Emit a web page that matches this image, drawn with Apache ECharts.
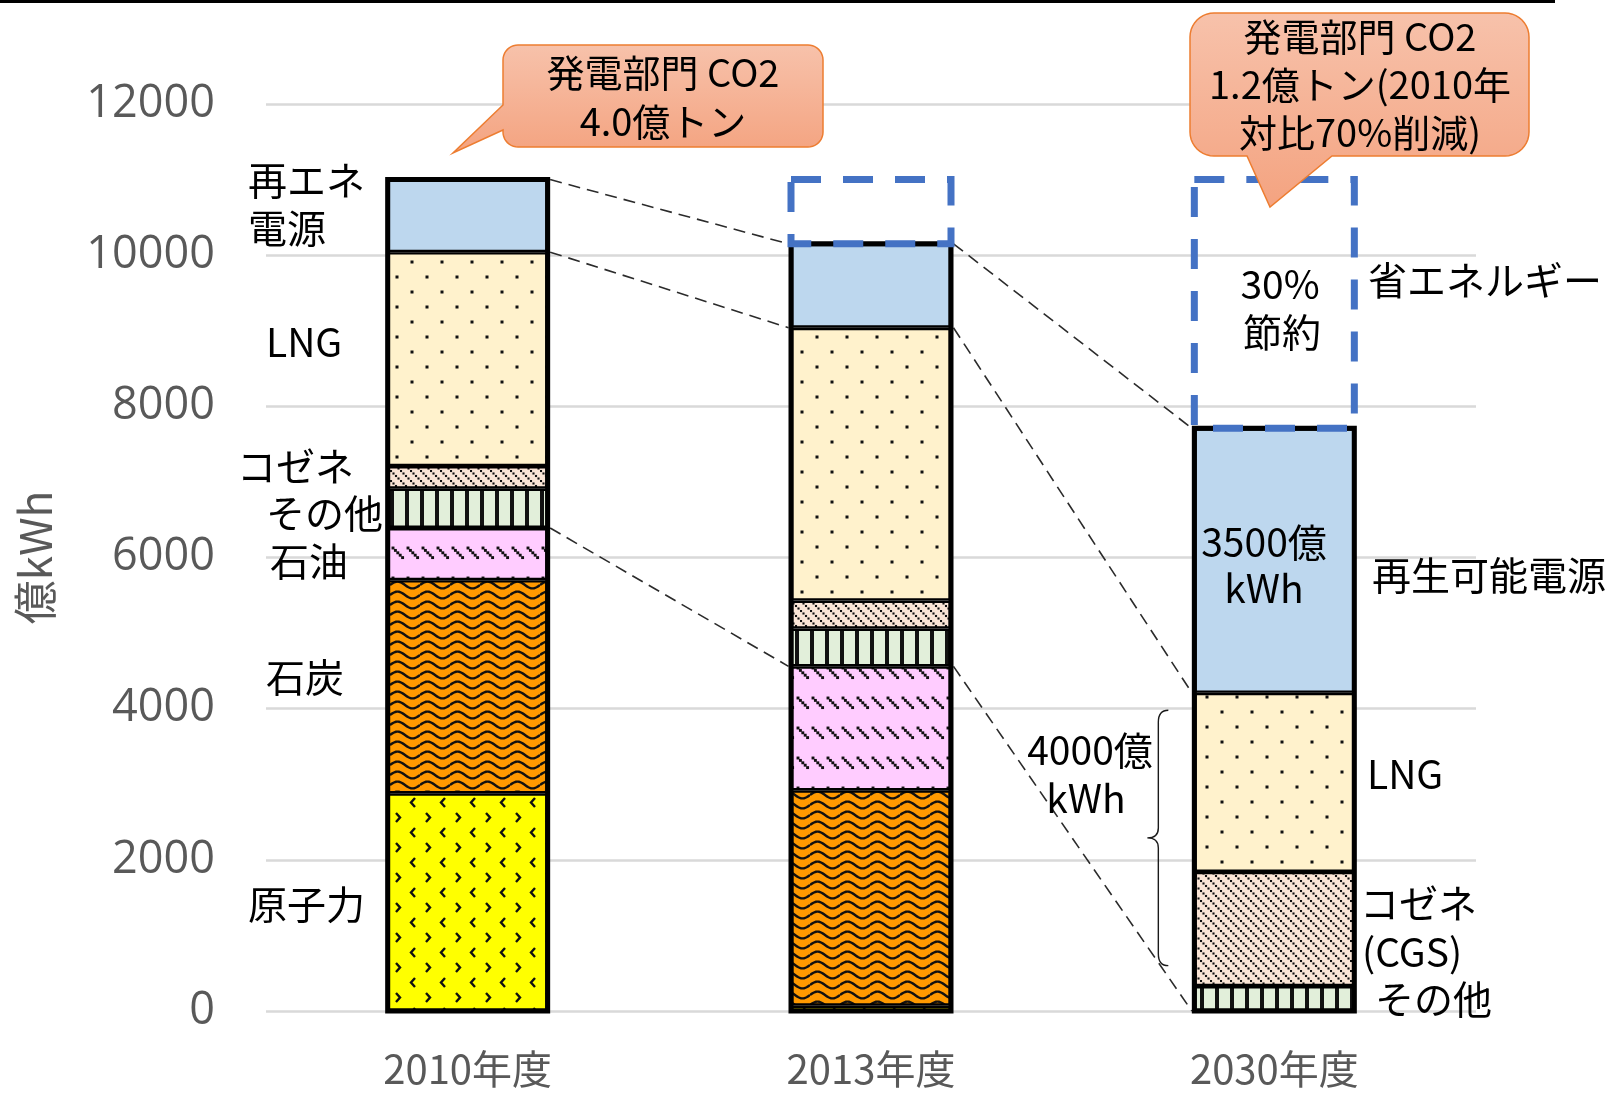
<!DOCTYPE html>
<html>
<head>
<meta charset="utf-8">
<script src="https://cdn.jsdelivr.net/npm/echarts@6/dist/echarts.min.js"></script>
<style>
  html, body { margin: 0; padding: 0; background: #ffffff; }
  #chart { width: 1618px; height: 1093px; }
</style>
</head>
<body>
<div id="chart"></div>
<script>
// ---- data (億kWh) ----
const categories = ['2010年度', '2013年度', '2030年度'];
const yMin = 0, yMax = 12000, yStep = 2000;

const nuclear   = [2880,   70, null];   // 原子力
const coal      = [2820, 2850, null];   // 石炭
const oil       = [ 690, 1640, null];   // 石油
const others    = [ 520,  500,  330];   // その他
const cogen     = [ 300,  370, 1510];   // コゼネ (CGS)
const lng       = [2830, 3610, 2370];   // LNG
const renewable = [ 960, 1110, 3500];   // 再エネ電源
const saving    = [null,  850, 3290];   // 省エネルギー

// brace beside the 2030 bar (value range)
const braceRange = [600, 3980];

// ---- hatch patterns ----
function tile(w, h, bg, draw) {
  const c = document.createElement('canvas');
  c.width = w; c.height = h;
  const g = c.getContext('2d');
  g.fillStyle = bg; g.fillRect(0, 0, w, h);
  g.fillStyle = '#111'; g.strokeStyle = '#111';
  draw(g, w, h);
  return { image: c, repeat: 'repeat' };
}
const dot = (g, x, y, s) => g.fillRect(x - s / 2, y - s / 2, s, s);

const patNuclear = tile(30, 30, '#FFFF00', g => {
  g.lineWidth = 2.4;
  g.beginPath(); g.moveTo(6, 3); g.lineTo(10, 7.5); g.lineTo(6, 12); g.stroke();
  g.beginPath(); g.moveTo(25, 18); g.lineTo(21, 22.5); g.lineTo(25, 27); g.stroke();
});
const patCoal = tile(30, 10, '#FF9900', g => {
  g.lineWidth = 2.4;
  for (const oy of [-10, 0, 10]) {
    g.beginPath();
    for (let x = 0; x <= 30; x += 1) {
      const y = oy + 5 - 3.4 * Math.sin(2 * Math.PI * x / 30);
      if (x === 0) g.moveTo(x, y); else g.lineTo(x, y);
    }
    g.stroke();
  }
});
const patOil = tile(15, 30, '#FFCCFF', g => {
  for (let k = 0; k < 5; k++) dot(g, 3 + k * 2.4, 8 + k * 2.4, 2.9);
});
const patOthers = tile(15, 4, '#E2EFDA', g => { g.fillRect(0, 0, 4, 4); });
const patCogen = tile(10, 10, '#FBE5D6', g => {
  for (let i = 0; i < 10; i += 2.5) dot(g, i + 1, i + 1, 2.1);
});
const patLng = tile(30, 30, '#FFF2CC', g => { dot(g, 7, 7, 3); dot(g, 22, 22, 3); });

const BAR_W = 160;
const BORDER = 2.4;      // segment border (kept inside each segment)
const OUTLINE = 5;       // outer frame of each bar
const FONT = '"Noto Sans CJK JP", sans-serif';

function barSeries(name, data, color) {
  return {
    name, type: 'bar', stack: 'total', barWidth: BAR_W, data,
    itemStyle: { color, borderColor: '#000', borderWidth: BORDER },
    emphasis: { disabled: true }
  };
}

// stack boundaries per category, level k = sum of the first k segments
const stackOrder = [nuclear, coal, oil, others, cogen, lng, renewable];
function level(cat, k) {
  let s = 0;
  for (let i = 0; i < k; i++) s += stackOrder[i][cat] || 0;
  return s;
}
const totals = categories.map((c, i) => [i, level(i, stackOrder.length)]);
const savingBoxes = saving
  .map((v, i) => (v == null ? null : [i, level(i, stackOrder.length), level(i, stackOrder.length) + v]))
  .filter(d => d);

// dashed guide lines between bars: [fromCat, fromLevel, toCat, toLevel]
const linkSpec = [[0, 7, 1, 7], [0, 6, 1, 6], [0, 3, 1, 3], [1, 7, 2, 7], [1, 6, 2, 6], [1, 3, 2, 0]];
const links = linkSpec.map(([a, la, b, lb]) => [a, level(a, la), b, level(b, lb)]);

// callout outline (rounded box with a pointer)
function calloutPoints(x, y, w, h, r, tail) {
  const pts = [];
  const arc = (cx, cy, a0, a1) => {
    for (let i = 0; i <= 10; i++) {
      const t = a0 + (a1 - a0) * i / 10;
      pts.push([cx + r * Math.cos(t), cy + r * Math.sin(t)]);
    }
  };
  arc(x + r, y + r, Math.PI, 1.5 * Math.PI);
  arc(x + w - r, y + r, 1.5 * Math.PI, 2 * Math.PI);
  arc(x + w - r, y + h - r, 0, 0.5 * Math.PI);
  if (tail.edge === 'bottom') pts.push([tail.a, y + h], tail.tip, [tail.b, y + h]);
  arc(x + r, y + h - r, 0.5 * Math.PI, Math.PI);
  if (tail.edge === 'left') pts.push([x, tail.a], tail.tip, [x, tail.b]);
  return pts;
}
const calloutFill = {
  type: 'linear', x: 0, y: 0, x2: 0, y2: 1,
  colorStops: [{ offset: 0, color: '#F7C2AB' }, { offset: 1, color: '#F4A380' }]
};
function callout(pts) {
  return { type: 'polygon', shape: { points: pts }, style: { fill: calloutFill, stroke: '#ED7D31', lineWidth: 1.5 }, z: 10 };
}
function txt(text, x, y, align, size, color) {
  return {
    type: 'text', z: 11,
    style: { text, x, y, align: align || 'left', verticalAlign: 'middle',
      fontSize: size || 39, fontFamily: FONT, fill: color || '#000' }
  };
}

const chart = echarts.init(document.getElementById('chart'), null, { renderer: 'canvas' });

chart.setOption({
  animation: false,
  backgroundColor: '#ffffff',
  grid: { left: 266, right: 142, top: 104, bottom: 82, containLabel: false, outerBoundsMode: 'none' },
  xAxis: {
    type: 'category', data: categories,
    axisLine: { show: false }, axisTick: { show: false },
    axisLabel: { color: '#595959', fontSize: 40, fontFamily: FONT, margin: 36, lineHeight: 44 }
  },
  yAxis: {
    type: 'value', min: yMin, max: yMax, interval: yStep,
    axisLine: { show: false }, axisTick: { show: false },
    axisLabel: { color: '#595959', fontSize: 45, fontFamily: '"Open Sans", sans-serif', margin: 51,
      formatter: v => String(v) },
    splitLine: { lineStyle: { color: '#D9D9D9', width: 2.5 } },
    name: '億kWh', nameLocation: 'middle', nameRotate: 90, nameGap: 209,
    nameTextStyle: { color: '#595959', fontSize: 44, fontFamily: FONT }
  },
  series: [
    barSeries('原子力', nuclear, patNuclear),
    barSeries('石炭', coal, patCoal),
    barSeries('石油', oil, patOil),
    barSeries('その他', others, patOthers),
    barSeries('コゼネ', cogen, patCogen),
    barSeries('LNG', lng, patLng),
    barSeries('再エネ電源', renewable, '#BDD7EE'),
    {
      // heavy frame round each stacked bar
      name: 'frame', type: 'custom', data: totals, clip: false, silent: true, z: 3,
      encode: { x: 0, y: 1 },
      renderItem: (params, api) => {
        const top = api.coord([api.value(0), api.value(1)]);
        const base = api.coord([api.value(0), 0]);
        return {
          type: 'rect',
          shape: { x: top[0] - BAR_W / 2, y: top[1], width: BAR_W, height: base[1] - top[1] },
          style: { fill: null, stroke: '#000', lineWidth: OUTLINE }
        };
      }
    },
    {
      // 省エネルギー: dashed outline above the bar
      name: '省エネルギー', type: 'custom', data: savingBoxes, clip: false, silent: true, z: 4,
      encode: { x: 0, y: [1, 2] },
      renderItem: (params, api) => {
        const lo = api.coord([api.value(0), api.value(1)]);
        const hi = api.coord([api.value(0), api.value(2)]);
        return {
          type: 'rect',
          shape: { x: lo[0] - BAR_W / 2, y: hi[1], width: BAR_W, height: lo[1] - hi[1] },
          style: { fill: null, stroke: '#4472C4', lineWidth: 7, lineDash: [30, 22] }
        };
      }
    },
    {
      name: 'links', type: 'custom', data: links, clip: false, silent: true,
      encode: { x: [0, 2], y: [1, 3] },
      renderItem: (params, api) => {
        const a = api.coord([api.value(0), api.value(1)]);
        const b = api.coord([api.value(2), api.value(3)]);
        const half = BAR_W / 2 + OUTLINE / 2;
        return {
          type: 'line',
          shape: { x1: a[0] + half, y1: a[1], x2: b[0] - half, y2: b[1] },
          style: { stroke: '#2b2b2b', lineWidth: 1.6, lineDash: [12, 7] }
        };
      }
    },
    {
      name: 'brace', type: 'custom', data: [[2, braceRange[0], braceRange[1]]], clip: false, silent: true,
      encode: { x: 0, y: [1, 2] },
      renderItem: (params, api) => {
        const lo = api.coord([api.value(0), api.value(1)]);
        const hi = api.coord([api.value(0), api.value(2)]);
        const xr = lo[0] - BAR_W / 2 - 26, xm = xr - 10, xl = xr - 21;
        const yt = hi[1], yb = lo[1], ym = (yt + yb) / 2;
        const d = `M${xr} ${yt} Q${xm} ${yt} ${xm} ${yt + 12} L${xm} ${ym - 10} Q${xm} ${ym} ${xl} ${ym} ` +
                  `Q${xm} ${ym} ${xm} ${ym + 10} L${xm} ${yb - 12} Q${xm} ${yb} ${xr} ${yb}`;
        return { type: 'path', shape: { pathData: d }, style: { fill: null, stroke: '#1a1a1a', lineWidth: 1.4 } };
      }
    }
  ],
  graphic: [
    { type: 'line', shape: { x1: 0, y1: 1.5, x2: 1555, y2: 1.5 }, style: { stroke: '#000', lineWidth: 3 } },
    callout(calloutPoints(503, 45, 320, 102, 15, { edge: 'left', a: 130, b: 105, tip: [453, 153] })),
    txt('発電部門 CO2', 663, 73, 'center', 38),
    txt('4.0億トン', 663, 122, 'center', 38),
    callout(calloutPoints(1190, 13, 339, 143, 24, { edge: 'bottom', a: 1332, b: 1247, tip: [1270, 207] })),
    txt('発電部門 CO2', 1360, 37, 'center', 38),
    txt('1.2億トン(2010年', 1360, 85, 'center', 38),
    txt('対比70%削減)', 1360, 133, 'center', 38),

    txt('再エネ', 248, 180), txt('電源', 248, 228),
    txt('LNG', 266, 342), txt('コゼネ', 237, 466), txt('その他', 266, 513),
    txt('石油', 270, 561), txt('石炭', 266, 677), txt('原子力', 248, 904),

    txt('30%', 1280, 284, 'center'), txt('節約', 1282, 332, 'center'),
    txt('省エネルギー', 1368, 280),
    txt('3500億', 1264, 542, 'center'), txt('kWh', 1264, 588, 'center'),
    txt('再生可能電源', 1372, 575),
    txt('4000億', 1090, 750, 'center'), txt('kWh', 1086, 798, 'center'),
    txt('LNG', 1367, 774), txt('コゼネ', 1360, 903), txt('(CGS)', 1362, 952), txt('その他', 1375, 999)
  ]
});
</script>
</body>
</html>
